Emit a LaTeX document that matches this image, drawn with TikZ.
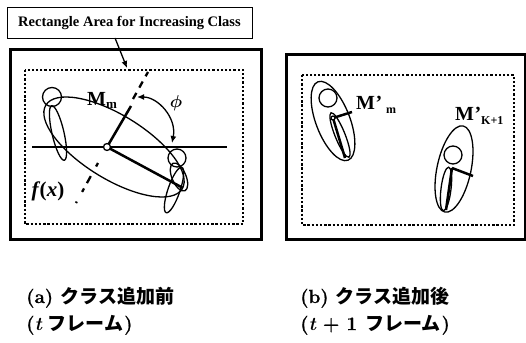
\documentclass[tikz,border=0pt]{standalone}
\usepackage{amsmath}
\usepackage{bm}
\usepackage{fontspec}
\newfontfamily\timesfont{Liberation Serif}
\newfontfamily\jpfont{Noto Sans CJK JP}
\newfontfamily\capfont{Latin Modern Roman}[BoldFeatures={FakeBold=0.8}]
\usetikzlibrary{arrows.meta}

\tikzset{
  frame/.style={line width=3pt},
  dotrect/.style={line width=1.7pt, dash pattern=on 2.3pt off 1.9pt},
  thinline/.style={line width=1.3pt},
  limb/.style={line width=2.5pt},
  boxlabel/.style={draw, line width=0.9pt, inner sep=0pt, minimum width=245pt, minimum height=31pt,
    font=\timesfont\bfseries\fontsize{14.5}{17}\selectfont},
  mlabel/.style={inner sep=0pt, font=\timesfont\bfseries\fontsize{20}{22}\selectfont},
  caption/.style={inner sep=0pt, anchor=base west, font=\capfont\bfseries\fontsize{19}{22}\selectfont},
  tip/.style={-{Latex[length=7pt,width=6pt]}},
}

\begin{document}
\begin{tikzpicture}[x=1pt,y=-1pt]
\useasboundingbox (0,0) rectangle (526,342);

% ---------------- panel (a) ----------------
\node[boxlabel] (lbl) at (129.5,22.5) {Rectangle Area for Increasing Class};
\draw[frame] (10,50) rectangle (261,239);
\draw[dotrect] (25,70) rectangle (243,224);
\coordinate (lblfoot) at (115,38);
\coordinate (areatop) at (127,68);
\draw[thinline, tip] (lblfoot) -- (areatop);

% horizontal reference axis
\coordinate (axL) at (32,147);
\coordinate (axR) at (227,147);
\draw[thinline] (axL) -- (axR);

% class ellipse
\draw[thinline, rotate around={-31.6:(114,147)}] (114,147) ellipse [x radius=80pt, y radius=32pt];

% principal axes from the class centre
\coordinate (cen) at (107,147);
\coordinate (majEnd) at (183,188);
\coordinate (minEnd) at (131,106);
\draw[limb] (cen) -- (majEnd);
\draw[limb] (cen) -- (minEnd);

% separating line f(x)
\coordinate (fxA) at (133,99);
\coordinate (fxB) at (148,72);
\coordinate (fxC) at (98,163);
\coordinate (fxD) at (76,203);
\draw[line width=2.3pt, dash pattern=on 7pt off 6pt] (fxA) -- (fxB);
\draw[line width=2.3pt, dash pattern=on 4pt off 11pt on 8pt off 6pt] (fxC) -- (fxD);

\draw[thinline, fill=white] (cen) circle [radius=3.5pt];

% angle phi
\coordinate (phiA) at (137,97);
\coordinate (phiB) at (172,143);
\draw[thinline, {Latex[length=7pt,width=6pt]}-{Latex[length=7pt,width=6pt]}]
  (phiA) .. controls (158,97) and (177,118) .. (phiB);

% person, upper left
\draw[thinline] (52,97) circle [radius=9.5pt];
\draw[thinline, rotate around={-77:(58,133)}] (58,133) ellipse [x radius=28pt, y radius=6pt];

% person, right
\draw[thinline] (177,158) circle [radius=9pt];
\draw[thinline, rotate around={-67:(179,177)}] (179,177) ellipse [x radius=15pt, y radius=7pt];
\draw[thinline, rotate around={71:(174,190)}] (174,190) ellipse [x radius=24pt, y radius=6pt];

\node[mlabel, anchor=base west] (Mm) at (87,105) {M\raisebox{-3pt}{\fontsize{13}{13}\selectfont m}};
\node[inner sep=0pt] (phi) at (176,103) {\fontsize{19}{21}\selectfont$\bm{\phi}$};
\node[inner sep=0pt, font=\timesfont\bfseries\fontsize{21}{23}\selectfont] (fx) at (48,191)
  {{\itshape f}\kern1pt(\kern0.5pt{\itshape x})};

% ---------------- panel (b) ----------------
\draw[frame] (286,55) rectangle (525,239);
\draw[dotrect] (302,75) rectangle (514,225);

% class m
\draw[thinline, rotate around={-69:(333,121)}] (333,121) ellipse [x radius=42pt, y radius=17pt];
\draw[thinline] (328,98) circle [radius=9pt];
\draw[thinline, rotate around={-68:(340,135)}] (340,135) ellipse [x radius=24pt, y radius=5pt];
\coordinate (neckA) at (333,118);
\coordinate (footA) at (345,158);
\coordinate (handA) at (352,112);
\draw[limb] (neckA) -- (footA);
\draw[limb] (neckA) -- (handA);
\draw[thinline, fill=white] (neckA) circle [radius=2pt];

% new class K+1
\draw[thinline, rotate around={78:(454,169)}] (454,169) ellipse [x radius=44pt, y radius=17pt];
\draw[thinline] (453,155) circle [radius=9pt];
\draw[thinline, rotate around={83:(446,189)}] (446,189) ellipse [x radius=22pt, y radius=5pt];
\coordinate (neckB) at (452,168);
\coordinate (footB) at (446,210);
\coordinate (handB) at (473,176);
\draw[limb] (neckB) -- (footB);
\draw[limb] (neckB) -- (handB);

\node[mlabel, anchor=base west] (Mpm) at (356,110) {M\kern0.5pt’\kern4pt\raisebox{-4pt}{\fontsize{12}{12}\selectfont m}};
\node[mlabel, anchor=base west] (MpK) at (455,120) {M\kern0.5pt’\raisebox{-4pt}{\fontsize{12}{12}\selectfont K+1}};

% ---------------- captions ----------------
\node[caption] (capa1) at (26,303) {(a) {\jpfont クラス追加前}};
\node[caption] (capa2) at (26,330) {({\itshape t}\kern6pt{\jpfont フレーム}\kern1pt)};
\node[caption] (capb1) at (300,303) {(b) {\jpfont クラス追加後}};
\node[caption] (capb2) at (300,330) {({\itshape t}\kern7pt+\kern7pt1\kern8pt{\jpfont フレーム}\kern1pt)};
\end{tikzpicture}
\end{document}
